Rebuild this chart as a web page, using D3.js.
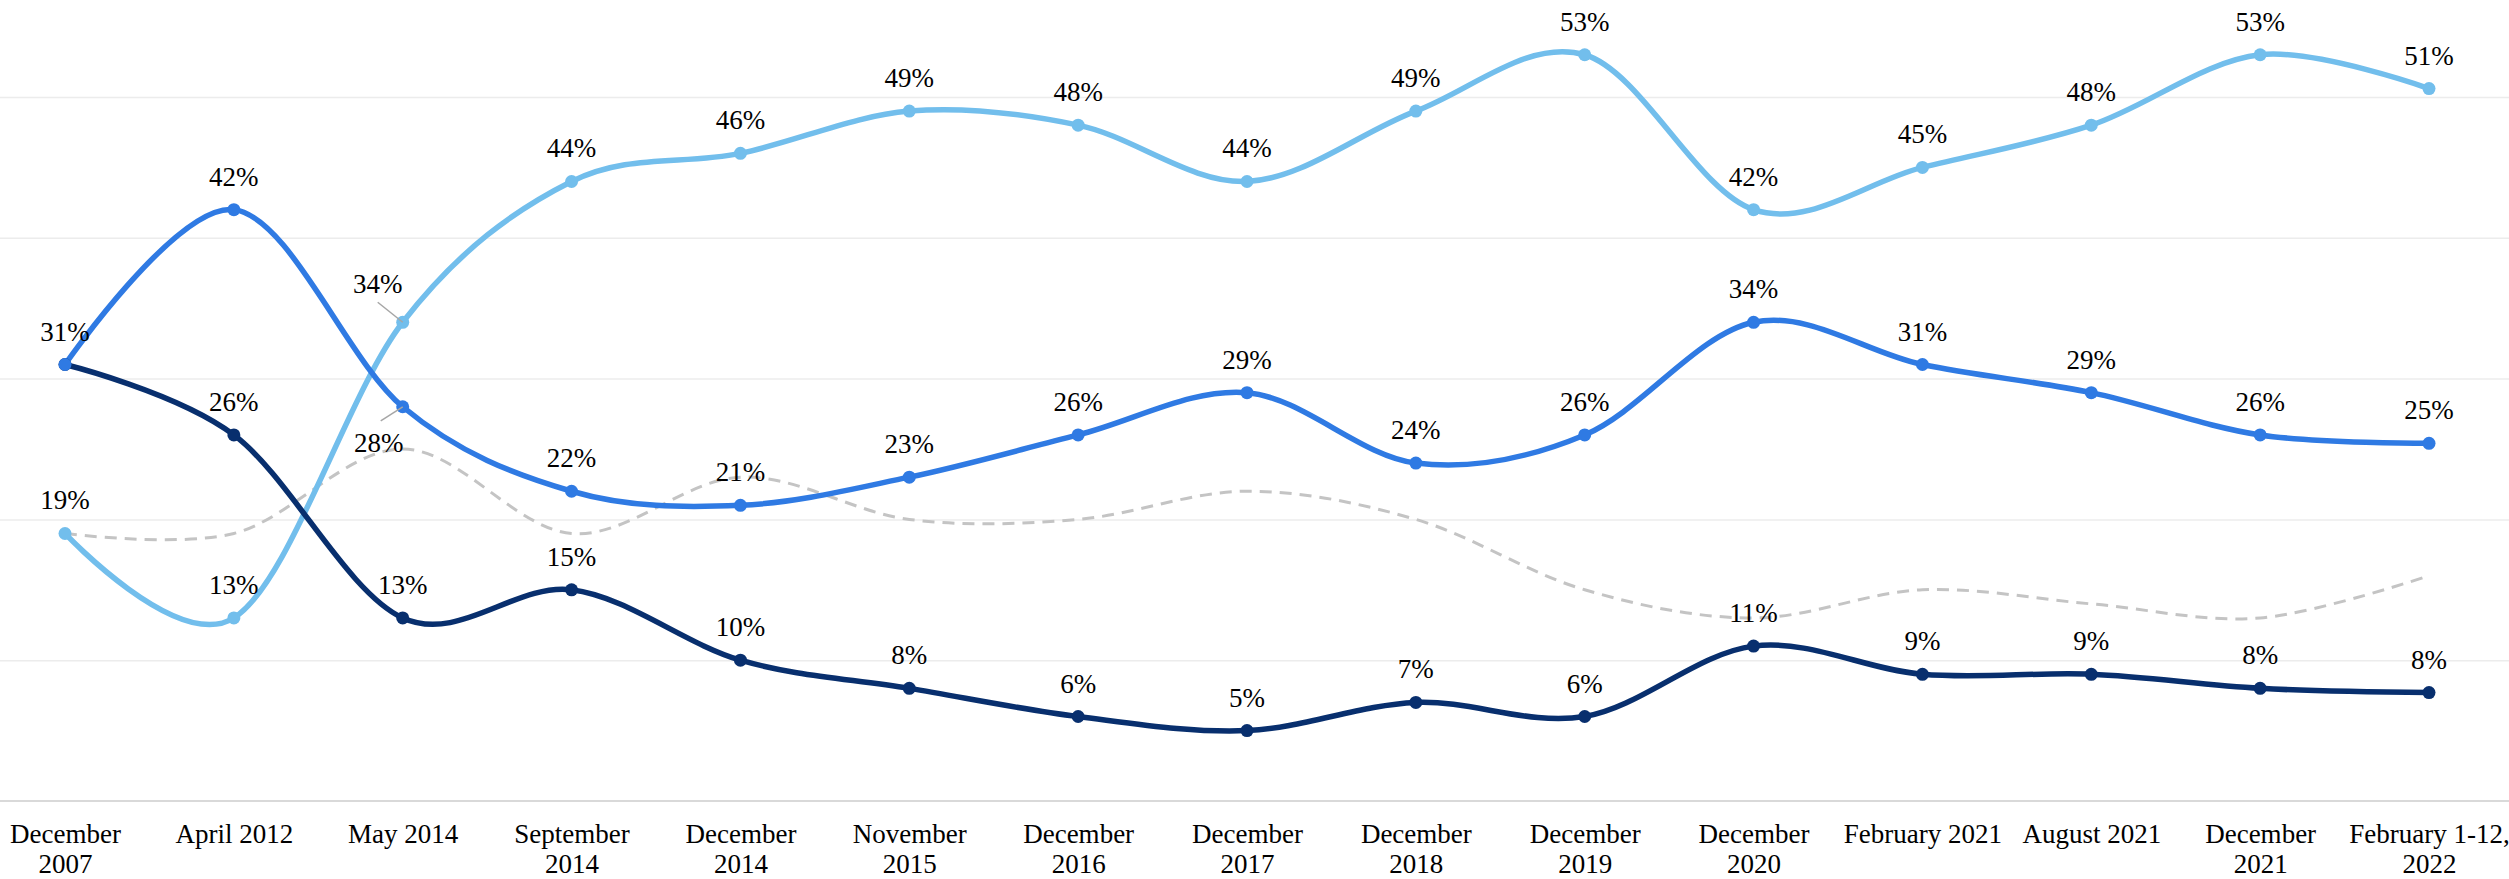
<!DOCTYPE html>
<html>
<head>
<meta charset="utf-8">
<script src="https://cdn.jsdelivr.net/npm/d3@7"></script>
<style>
  html, body { margin: 0; padding: 0; background: #ffffff; }
  svg { display: block; }
  text { font-family: "Liberation Serif", "Times New Roman", serif; fill: #000; }
</style>
</head>
<body>
<svg id="chart" width="2509" height="879"></svg>
<script>
// ---- Data ----
const categories = [
  "December\n2007", "April 2012", "May 2014", "September\n2014", "December\n2014",
  "November\n2015", "December\n2016", "December\n2017", "December\n2018", "December\n2019",
  "December\n2020", "February 2021", "August 2021", "December\n2021", "February 1-12,\n2022"
];
const lightSeries = [19, 13, 34, 44, 46, 49, 48, 44, 49, 53, 42, 45, 48, 53, 50.6];
const midSeries   = [31, 42, 28, 22, 21, 23, 26, 29, 24, 26, 34, 31, 29, 26, 25.4];
const darkSeries  = [31, 26, 13, 15, 10, 8, 6, 5, 7, 6, 11, 9, 9, 8, 7.7];
const graySeries  = [19, 19, 25, 19, 23, 20, 20, 22, 20, 15, 13, 15, 14, 13, 16];
const gridValues  = [10, 20, 30, 40, 50];

// ---- Layout ----
const W = 2509, H = 879;
const svg = d3.select("#chart");
const x = d3.scalePoint().domain(categories).range([65, 2429]);
const y = d3.scaleLinear().domain([0, 50]).range([801, 97]);
const fmt = v => Math.round(v) + "%";

// gridlines
const grid = svg.append("g").attr("class", "grid")
  .call(d3.axisLeft(y).tickValues(gridValues).tickSize(-W).tickFormat(""))
  .attr("transform", "translate(" + W + ",0)");
grid.select(".domain").remove();
grid.selectAll(".tick line").attr("stroke", "#ececec").attr("stroke-width", 1.5)
  .attr("x1", -W).attr("x2", 0);

// baseline
svg.append("line").attr("x1", 0).attr("x2", W).attr("y1", y(0)).attr("y2", y(0))
  .attr("stroke", "#d9d9d9").attr("stroke-width", 2);

// x axis labels
const xAxis = svg.append("g").attr("transform", "translate(0," + y(0) + ")")
  .call(d3.axisBottom(x).tickSize(0).tickFormat(""));
xAxis.select(".domain").remove();
xAxis.selectAll(".tick").each(function(d) {
  const lines = d.split("\n");
  const t = d3.select(this).append("text")
    .attr("text-anchor", "middle")
    .attr("font-size", 27)
    .attr("y", 42);
  lines.forEach((ln, i) => {
    t.append("tspan").attr("x", 0).attr("dy", i === 0 ? 0 : 30).text(ln);
  });
});

// lines
const curve = d3.curveCardinal.tension(0);
const lineGen = d3.line()
  .x((d, i) => x(categories[i]))
  .y(d => y(d))
  .curve(curve);

svg.append("path").datum(graySeries)
  .attr("d", lineGen).attr("fill", "none")
  .attr("stroke", "#c4c4c4").attr("stroke-width", 3).attr("stroke-dasharray", "12,8");

const series = [
  { name: "light", data: lightSeries, color: "#72beec" },
  { name: "mid", data: midSeries, color: "#2f7ae3" },
  { name: "dark", data: darkSeries, color: "#082f6e" }
];

series.forEach(s => {
  svg.append("path").datum(s.data)
    .attr("d", lineGen).attr("fill", "none")
    .attr("stroke", s.color).attr("stroke-width", 5.5)
    .attr("stroke-linejoin", "round").attr("stroke-linecap", "round");
});

// markers (dark first so mid sits on top at shared start)
[series[2], series[1], series[0]].forEach(s => {
  svg.append("g").selectAll("circle").data(s.data).join("circle")
    .attr("cx", (d, i) => x(categories[i]))
    .attr("cy", d => y(d))
    .attr("r", 6.5)
    .attr("fill", s.color);
});

// data labels
const special = {
  "light-2": { dx: -25, dy: -29, leader: [-25, -20] },
  "mid-2":   { dx: -24, dy: 45, leader: [-22, 14] }
};
const labelG = svg.append("g");
series.forEach(s => {
  s.data.forEach((v, i) => {
    if (s.name === "dark" && i === 0) return; // shares point with mid series
    const px = x(categories[i]), py = y(v);
    const sp = special[s.name + "-" + i];
    if (sp) {
      labelG.append("line")
        .attr("x1", px).attr("y1", py)
        .attr("x2", px + sp.leader[0]).attr("y2", py + sp.leader[1])
        .attr("stroke", "#a6a6a6").attr("stroke-width", 1.5);
      labelG.append("text").attr("x", px + sp.dx).attr("y", py + sp.dy)
        .attr("text-anchor", "middle").attr("font-size", 27).text(fmt(v));
    } else {
      labelG.append("text").attr("x", px).attr("y", py - 24)
        .attr("text-anchor", "middle").attr("font-size", 27).text(fmt(v));
    }
  });
});
</script>
</body>
</html>
